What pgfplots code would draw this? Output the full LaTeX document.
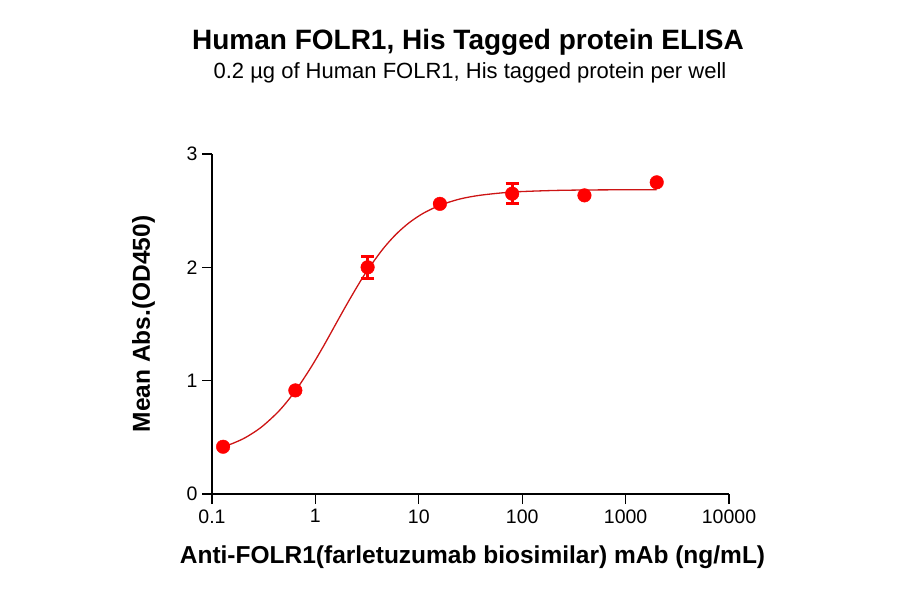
\documentclass[border=0pt]{standalone}
\usepackage{fontspec}
\setmainfont{Liberation Sans}
\usepackage{pgfplots}
\pgfplotsset{compat=1.18}

\definecolor{ptred}{RGB}{255,0,0}
\definecolor{fitred}{RGB}{205,20,20}

\begin{document}
\begin{tikzpicture}[x=1pt,y=1pt]
\path[use as bounding box] (-212,-100) rectangle (688,494);
\begin{axis}[
    at={(0,0)}, anchor=south west,
    scale only axis,
    width=517pt, height=340pt,
    xmode=log,
    xmin=0.1, xmax=10000,
    ymin=0, ymax=3,
    axis x line*=bottom,
    axis y line*=left,
    axis line style={line width=1.3pt, -},
    xtick={0.1,1,10,100,1000,10000},
    xticklabels={0.1,1,10,100,1000,10000},
    ytick={0,1,2,3},
    xminorticks=false,
    tick style={line width=1.3pt, black},
    tick align=outside,
    major tick length=10pt,
    every tick label/.append style={font=\fontsize{19.5}{22}\selectfont},
    /pgf/number format/assume math mode=true,
    xticklabel style={yshift=-2pt},
    yticklabel style={xshift=-1pt},
    clip=false,
]
% fitted curve
\addplot[fitred, line width=1.3pt, smooth] coordinates {
    (0.128,0.413) (0.2,0.487) (0.3,0.590) (0.45,0.738) (0.64,0.910)
    (0.9,1.113) (1.2,1.306) (1.56,1.493) (2,1.669) (2.6,1.847)
    (3.2,1.977) (4.5,2.162) (6,2.290) (8,2.391) (11,2.476)
    (16,2.547) (25,2.603) (40,2.637) (80,2.664) (200,2.678)
    (500,2.683) (2000,2.685)
};
% data points with error bars
\addplot[only marks, mark=*, mark size=6.8pt, color=ptred,
    error bars/.cd, y dir=both, y explicit,
    error bar style={line width=3pt, ptred},
    error mark options={rotate=90, mark size=6.5pt, line width=3pt, ptred}]
    coordinates {
    (0.128,0.417) +- (0,0)
    (0.64,0.914) +- (0,0)
    (3.2,2.00) +- (0,0.095)
    (16,2.56) +- (0,0)
    (80,2.65) +- (0,0.09)
    (400,2.635) +- (0,0)
    (2000,2.75) +- (0,0)
};
\end{axis}
\node[anchor=base, font=\bfseries\fontsize{28}{32}\selectfont] at (256,444) {Human FOLR1, His Tagged protein ELISA};
\node[anchor=base, font=\fontsize{22}{26}\selectfont] at (258,415.5) {0.2 \textmu g of Human FOLR1, His tagged protein per well};
\node[anchor=base, font=\bfseries\fontsize{24.5}{28}\selectfont] at (260.5,-70) {Anti-FOLR1(farletuzumab biosimilar) mAb (ng/mL)};
\node[anchor=base, rotate=90, font=\bfseries\fontsize{24.5}{28}\selectfont] at (-62,170) {Mean Abs.(OD450)};
\end{tikzpicture}
\end{document}
